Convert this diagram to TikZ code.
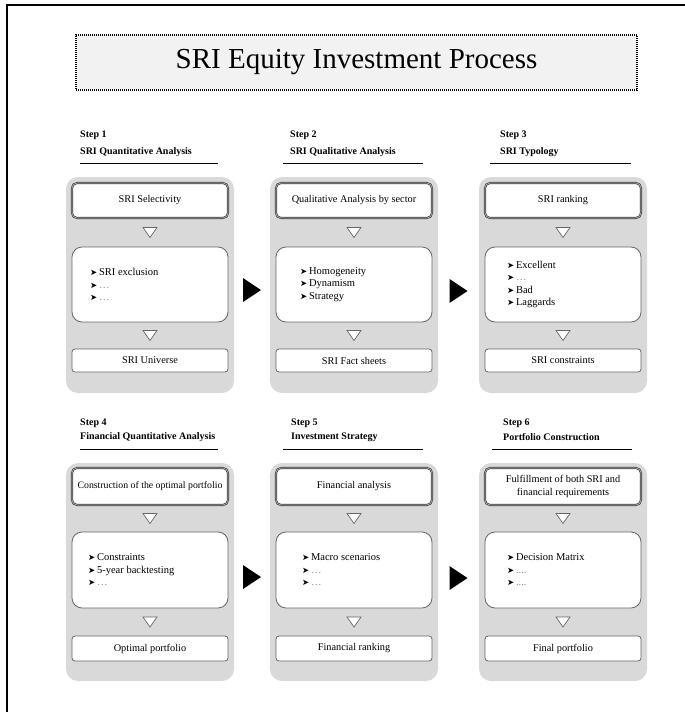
\documentclass[tikz,border=0pt]{standalone}
\usepackage{fontspec}
\setmainfont{Liberation Serif}
\newfontfamily\arrowfont{DejaVu Sans}
\usetikzlibrary{positioning,calc}

\newcommand{\itm}{{\arrowfont\fontsize{8.5}{8}\selectfont\char"27A4}\,}
\newcommand{\dts}{\textcolor{black!45}{\dots}}
\newcommand{\downtri}[1]{\filldraw[smalltri] (#1) +(-7,-5) -- +(7,-5) -- +(0,5) -- cycle;}
\newcommand{\bigarr}[1]{\fill (#1) +(-9,-12) -- +(9,0) -- +(-9,12) -- cycle;}

\begin{document}
\begin{tikzpicture}[x=1pt,y=-1pt,
    panel/.style={fill=black!15,rounded corners=12pt,minimum width=168pt,inner sep=0pt},
    headbox/.style={draw=black!75,double=black!30,double distance=0.7pt,line width=0.7pt,fill=white,rounded corners=5pt,
        minimum width=156pt,inner sep=0pt,align=center,font=\fontsize{10.3}{13}\selectfont},
    midbox/.style={draw=black!60,line width=0.8pt,fill=white,rounded corners=10pt,minimum width=156pt,inner sep=0pt},
    endbox/.style={draw=black!60,line width=0.8pt,fill=white,rounded corners=3pt,minimum width=156pt,inner sep=0pt,
        font=\fontsize{10.3}{12}\selectfont},
    items/.style={anchor=west,align=left,inner sep=0pt,font=\fontsize{10.5}{12.5}\selectfont},
    steplbl/.style={anchor=west,inner sep=0pt,font=\fontsize{10}{12}\selectfont\bfseries},
    smalltri/.style={fill=white,draw=black!60,line width=0.7pt,line join=miter}]
    \useasboundingbox (0,0) rectangle (685,712);

    % frame and title
    \draw[line width=1.6pt](7,712)--(7,5)--(685,5);
    \node[draw,line width=1.2pt,dash pattern=on 1pt off 1pt,fill=black!5,minimum width=561pt,minimum height=55pt,inner sep=0pt,
        font=\fontsize{29}{34}\selectfont](title) at (356.5,62.5){SRI Equity Investment Process};

    % step 1
    \node[steplbl](s1) at (80,135){Step 1};
    \node[steplbl](n1) at (80,152){SRI Quantitative Analysis};
    \draw(80,163)--(218,163);
    \node[panel,minimum height=216pt](p1) at (150,285){};
    \node[headbox,minimum height=35pt](t1) at (150,200.5){SRI Selectivity};
    \node[midbox,minimum height=75pt](m1) at (150,284.5){};
    \node[items](l1) at (90,284.5){\itm SRI exclusion\\ \itm\dts\\ \itm\dts};
    \node[endbox,minimum height=23pt](b1) at (150,360.5){SRI Universe};

    % step 2
    \node[steplbl](s2) at (290,135){Step 2};
    \node[steplbl](n2) at (290,152){SRI Qualitative Analysis};
    \draw(283,163)--(423,163);
    \node[panel,minimum height=216pt](p2) at (354,285){};
    \node[headbox,minimum height=35pt](t2) at (354,200.5){Qualitative Analysis by sector};
    \node[midbox,minimum height=75pt](m2) at (354,284.5){};
    \node[items](l2) at (300,284.5){\itm Homogeneity\\ \itm Dynamism\\ \itm Strategy};
    \node[endbox,minimum height=23pt](b2) at (354,360.5){SRI Fact sheets};

    % step 3
    \node[steplbl](s3) at (500,135){Step 3};
    \node[steplbl](n3) at (500,152){SRI Typology};
    \draw(490,163)--(631,163);
    \node[panel,minimum height=216pt](p3) at (563,285){};
    \node[headbox,minimum height=35pt](t3) at (563,200.5){SRI ranking};
    \node[midbox,minimum height=75pt](m3) at (563,284.5){};
    \node[items](l3) at (507,284.5){\itm Excellent\\ \itm\dts\\ \itm Bad\\ \itm Laggards};
    \node[endbox,minimum height=23pt](b3) at (563,360.5){SRI constraints};

    % step 4
    \node[steplbl](s4) at (80,423){Step 4};
    \node[steplbl](n4) at (80,437){Financial Quantitative Analysis};
    \draw(80,449)--(218,449);
    \node[panel,minimum height=218pt](p4) at (150,572){};
    \node[headbox,minimum height=37pt,font=\fontsize{9.8}{12}\selectfont](t4) at (150,486.5){Construction of the optimal portfolio};
    \node[midbox,minimum height=76pt](m4) at (150,570){};
    \node[items](l4) at (88,570){\itm Constraints\\ \itm 5-year backtesting\\ \itm\dts};
    \node[endbox,minimum height=25pt](b4) at (150,648.5){Optimal portfolio};

    % step 5
    \node[steplbl](s5) at (291,423){Step 5};
    \node[steplbl](n5) at (291,437){Investment Strategy};
    \draw(283,449)--(423,449);
    \node[panel,minimum height=218pt](p5) at (354,572){};
    \node[headbox,minimum height=37pt](t5) at (354,486.5){Financial analysis};
    \node[midbox,minimum height=76pt](m5) at (354,570){};
    \node[items](l5) at (302,570){\itm Macro scenarios\\ \itm\dts\\ \itm\dts};
    \node[endbox,minimum height=25pt](b5) at (354,648.5){Financial ranking};

    % step 6
    \node[steplbl](s6) at (503,423){Step 6};
    \node[steplbl](n6) at (503,437){Portfolio Construction};
    \draw(492,449)--(632,449);
    \node[panel,minimum height=218pt](p6) at (563,572){};
    \node[headbox,minimum height=37pt](t6) at (563,486.5){Fulfillment of both SRI and\\financial requirements};
    \node[midbox,minimum height=76pt](m6) at (563,570){};
    \node[items](l6) at (507,570){\itm Decision Matrix\\ \itm\textcolor{black!45}{....}\\ \itm\textcolor{black!45}{....}};
    \node[endbox,minimum height=25pt](b6) at (563,648.5){Final portfolio};

    % small triangles
    \downtri{$(t1.south)!.5!(m1.north)$}
    \downtri{$(m1.south)!.5!(b1.north)$}
    \downtri{$(t2.south)!.5!(m2.north)$}
    \downtri{$(m2.south)!.5!(b2.north)$}
    \downtri{$(t3.south)!.5!(m3.north)$}
    \downtri{$(m3.south)!.5!(b3.north)$}
    \downtri{$(t4.south)!.5!(m4.north)$}
    \downtri{$(m4.south)!.5!(b4.north)$}
    \downtri{$(t5.south)!.5!(m5.north)$}
    \downtri{$(m5.south)!.5!(b5.north)$}
    \downtri{$(t6.south)!.5!(m6.north)$}
    \downtri{$(m6.south)!.5!(b6.north)$}

    % big arrows
    \bigarr{$(p1.east)!.5!(p2.west)+(0,5)$}
    \bigarr{$(p2.east)!.5!(p3.west)+(0,6)$}
    \bigarr{$(p4.east)!.5!(p5.west)+(0,5)$}
    \bigarr{$(p5.east)!.5!(p6.west)+(0,6)$}
\end{tikzpicture}
\end{document}
